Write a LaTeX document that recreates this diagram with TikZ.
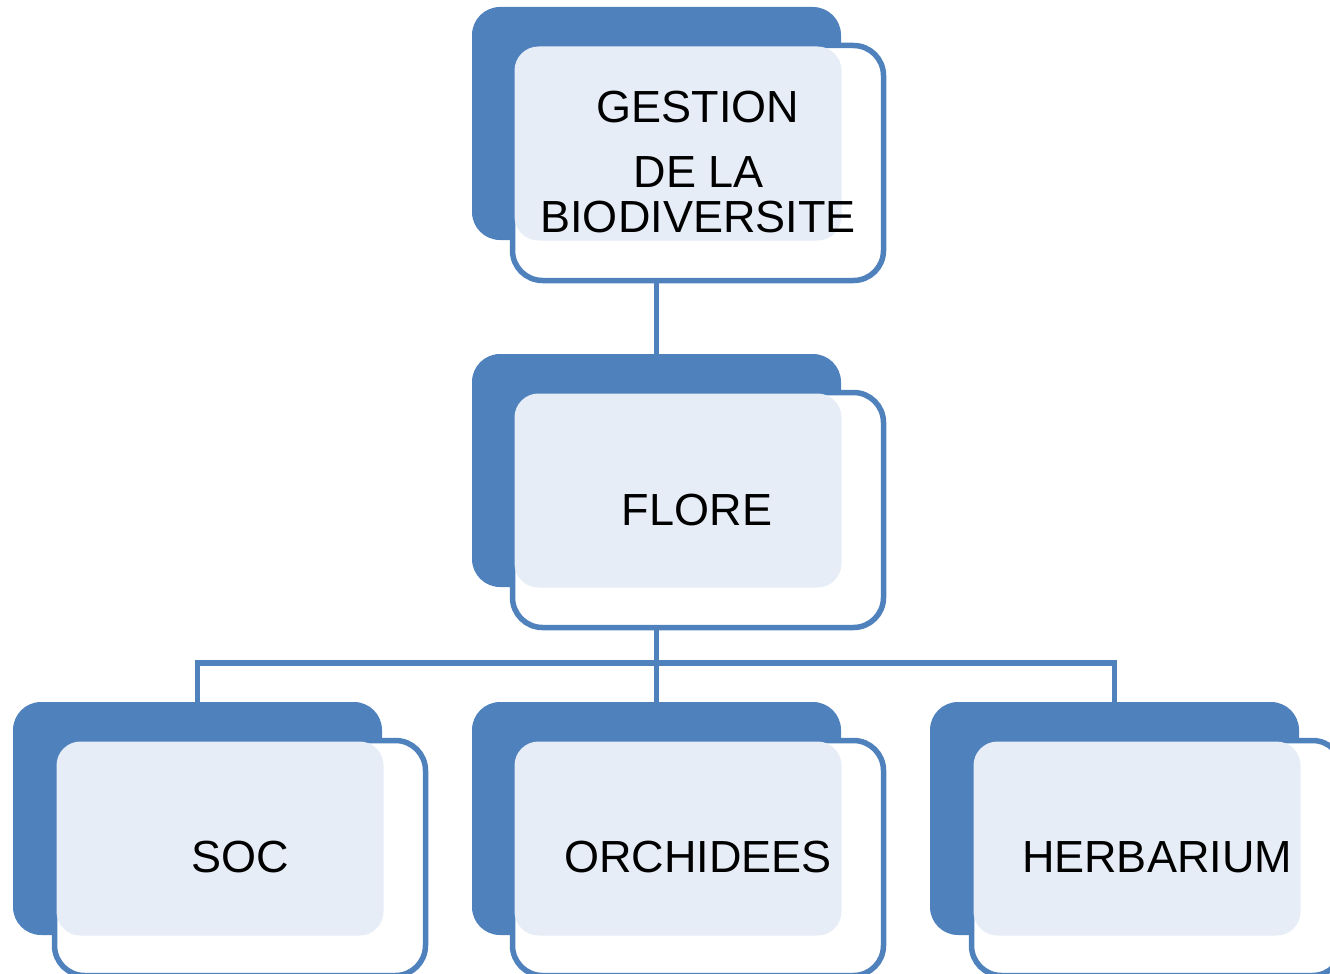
\documentclass[tikz,border=0pt]{standalone}
\usepackage{fontspec}
\setmainfont{Liberation Sans}
\definecolor{obl}{HTML}{4F81BD}
\definecolor{tint}{HTML}{E6EDF6}
\tikzset{
  backbox/.style={draw=none, fill=obl, rounded corners=28pt, minimum width=369pt, minimum height=233pt, inner sep=0pt, outer sep=0pt},
  frontbox/.style={draw=obl, line width=5.5pt, fill=white, rounded corners=30pt, minimum width=371pt, minimum height=235pt, inner sep=0pt, outer sep=0pt},
  tintbox/.style={draw=none, fill=tint, rounded corners=24pt, minimum width=327pt, minimum height=194pt, inner sep=0pt},
  lbl/.style={anchor=base, inner sep=0pt, font=\fontsize{45}{54}\selectfont, text=black},
  conn/.style={draw=obl, line width=5.5pt}
}
\begin{document}
\begin{tikzpicture}[x=1pt,y=-1pt]
\useasboundingbox (0,0) rectangle (1330,974);
% top
\node[backbox] (topb) at (656.5,123.5) {};
\node[frontbox] (top) at (698,163) {};
\node[tintbox] (topt) at (678,143.5) {};
\node[lbl] (t1) at (698,122) {GESTION};
\node[lbl] (t2) at (699,187) {DE LA};
\node[lbl] (t3) at (698,232) {BIODIVERSITE};
% middle
\node[backbox] (midb) at (656.5,470.5) {};
\node[frontbox] (mid) at (698,510) {};
\node[tintbox] (midt) at (678,490.5) {};
\node[lbl] (m1) at (697,525) {FLORE};
% bottom
\node[backbox] (socb) at (197.5,818.5) {};
\node[frontbox] (soc) at (240,858) {};
\node[tintbox] (soct) at (220,838.5) {};
\node[lbl] (s1) at (240,872) {SOC};
\node[backbox] (orchb) at (656.5,818.5) {};
\node[frontbox] (orch) at (698,858) {};
\node[tintbox] (orcht) at (678,838.5) {};
\node[lbl] (o1) at (698,872) {ORCHIDEES};
\node[backbox] (herbb) at (1114.5,818.5) {};
\node[frontbox] (herb) at (1157,858) {};
\node[tintbox] (herbt) at (1137,838.5) {};
\node[lbl] (h1) at (1157,872) {HERBARIUM};
% connectors
\coordinate (bar) at (656,663);
\draw[conn] (topb.south |- top.south) -- (midb.north);
\draw[conn] (midb.south |- mid.south) -- (orchb.north);
\draw[conn] (socb.north) -- (socb.north |- bar) -- (herbb.north |- bar) -- (herbb.north);
\end{tikzpicture}
\end{document}
